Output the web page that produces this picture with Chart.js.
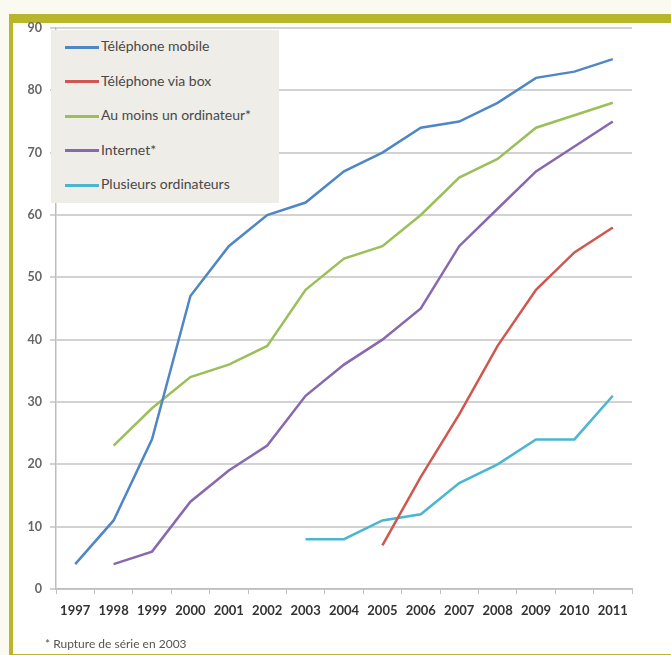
<!DOCTYPE html>
<html>
<head>
<meta charset="utf-8">
<script src="https://cdn.jsdelivr.net/npm/chart.js@4/dist/chart.umd.min.js"></script>
<style>
  body { margin: 0; width: 671px; height: 655px; overflow: hidden; background: #fbfaf0; position: relative; font-family: Lato, sans-serif; }
  #frame { position: absolute; left: 9px; top: 14px; width: 700px; height: 631px; background: #fff;
           border-top: 9px solid #b9b62c; border-left: 4px solid #b9b62c; border-bottom: 4px solid #b9b62c; }
  #wrap { position: absolute; left: 0; top: 0; width: 671px; height: 655px; }
  #legend { position: absolute; left: 51px; top: 30px; width: 228px; height: 173px; background: #efede8; }
  .item { position: absolute; left: 14px; height: 20px; font-size: 14px; color: #484848; white-space: nowrap; }
  .item span.sw { display: inline-block; width: 34px; height: 3px; vertical-align: middle; margin-right: 2px; }
  #note { position: absolute; left: 45px; top: 636px; font-size: 12px; color: #555; }
</style>
</head>
<body>
<div id="frame"></div>
<div id="wrap"><canvas id="myChart"></canvas></div>
<div id="legend"></div>
<div id="note">* Rupture de série en 2003</div>
<script>
var years = ['1997', '1998', '1999', '2000', '2001', '2002', '2003', '2004', '2005', '2006', '2007', '2008', '2009', '2010', '2011'];
var mobile = [4, 11, 24, 47, 55, 60, 62, 67, 70, 74, 75, 78, 82, 83, 85];
var box = [null, null, null, null, null, null, null, null, 7, 18, 28, 39, 48, 54, 58];
var ordinateur = [null, 23, 29, 34, 36, 39, 48, 53, 55, 60, 66, 69, 74, 76, 78];
var internet = [null, 4, 6, 14, 19, 23, 31, 36, 40, 45, 55, 61, 67, 71, 75];
var plusieurs = [null, null, null, null, null, null, 8, 8, 11, 12, 17, 20, 24, 24, 31];
var yTicks = [0, 10, 20, 30, 40, 50, 60, 70, 80, 90];

var ctx = document.getElementById('myChart');
var chart = new Chart(ctx, {
    type: "line",
    data: {
        labels: years,
        datasets: [
            { label: "Téléphone mobile", data: mobile, borderColor: "#4f86c6" },
            { label: "Téléphone via box", data: box, borderColor: "#d0574f" },
            { label: "Au moins un ordinateur*", data: ordinateur, borderColor: "#9cc059" },
            { label: "Internet*", data: internet, borderColor: "#8868ae" },
            { label: "Plusieurs ordinateurs", data: plusieurs, borderColor: "#4bb6cf" }
        ]
    },
    options: {
        responsive: true,
        maintainAspectRatio: false,
        animation: false,
        layout: { padding: { left: 0, right: 39, top: 28, bottom: 0 } },
        elements: {
            line: { borderWidth: 2.5, tension: 0 },
            point: { radius: 0 }
        },
        plugins: { legend: { display: false }, tooltip: { enabled: false } },
        scales: {
            x: {
                offset: true,
                grid: { display: true, drawOnChartArea: false, offset: true, tickLength: 5, color: '#bdbdbd' },
                border: { color: '#bdbdbd', width: 1.5 },
                ticks: { font: { family: 'Lato', size: 13, weight: 'bold' }, color: '#333', padding: 9, maxRotation: 0, autoSkip: false },
                afterFit: function (s) { s.height = 66; }
            },
            y: {
                min: 0,
                max: 90,
                afterBuildTicks: function (s) { s.ticks = yTicks.map(function (v) { return { value: v }; }); },
                grid: { color: '#d2d2d2', lineWidth: 2, tickLength: 6 },
                border: { color: '#bdbdbd', width: 1.5 },
                ticks: { font: { family: 'Lato', size: 12.5, weight: 'bold' }, color: '#666', padding: 8 },
                afterFit: function (s) { s.width = 56; }
            }
        }
    }
});

var legend = document.getElementById('legend');
chart.data.datasets.forEach(function (ds, i) {
    var div = document.createElement('div');
    div.className = 'item';
    div.style.top = (7 + i * 34.5) + 'px';
    div.innerHTML = '<span class="sw" style="background:' + ds.borderColor + '"></span>' + ds.label;
    legend.appendChild(div);
});
</script>
</body>
</html>
